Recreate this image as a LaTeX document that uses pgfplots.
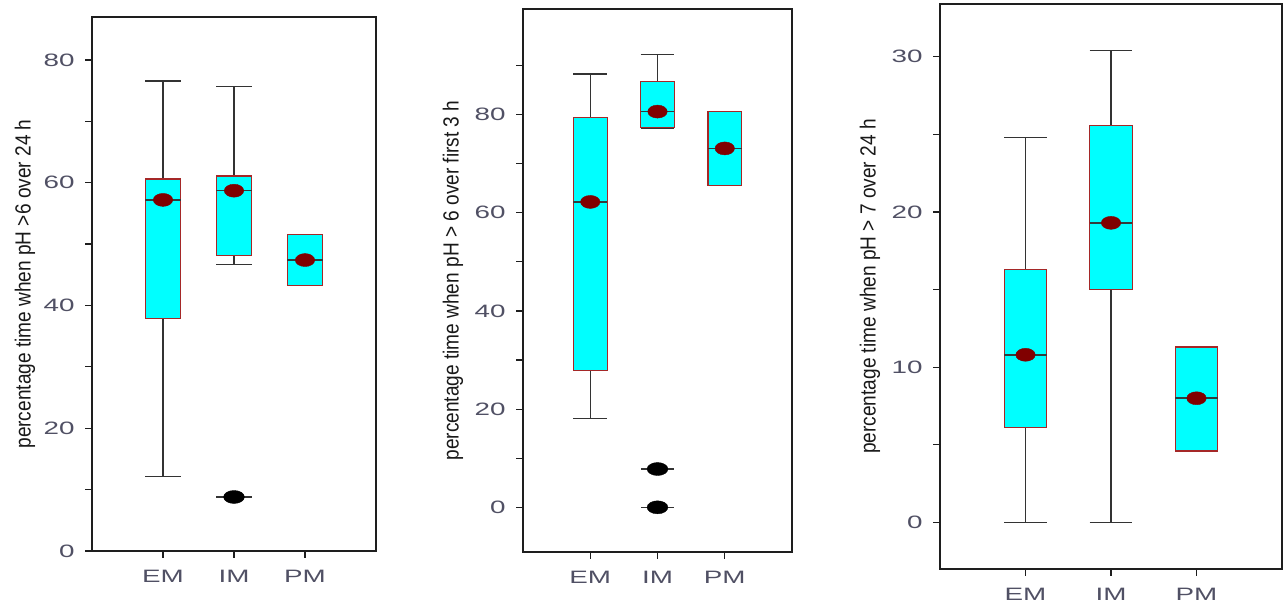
\documentclass[border=0pt]{standalone}
\usepackage{graphicx}
\usepackage{fontspec}
\setmainfont{Liberation Sans}
\usepackage{pgfplots}
\pgfplotsset{compat=1.18}
\usepgfplotslibrary{statistics}

\definecolor{boxfill}{RGB}{0,255,255}
\definecolor{boxedge}{RGB}{165,40,40}
\definecolor{meandot}{RGB}{128,0,0}
\definecolor{ticktext}{RGB}{80,80,100}
\definecolor{medline}{RGB}{50,60,60}
\definecolor{frame}{RGB}{30,30,30}

% tick labels are set wide, as in the original figure
\newcommand{\wide}[1]{\scalebox{1.55}[1]{#1}}
% axis titles are set narrow
\newcommand{\narrow}[1]{\scalebox{0.87}[1]{#1}}

\pgfplotsset{
  phpanel/.style={
    scale only axis,
    anchor=south west,
    xmin=0, xmax=4,
    xtick={1,2,3},
    xticklabels={\wide{EM},\wide{IM},\wide{PM}},
    tick pos=left,
    tick align=outside,
    major tick length=7bp,
    minor tick length=7bp,
    axis line style={line width=2bp, frame},
    every tick/.style={frame, line width=1.2bp},
    every minor tick/.style={frame, line width=1.2bp},
    tick label style={font=\fontsize{18}{21}\selectfont, text=ticktext},
    yticklabel style={xshift=-7bp},
    xticklabel style={yshift=-9bp},
    ylabel style={font=\fontsize{22}{25}\selectfont, anchor=center, text=black!90},
    boxplot/draw direction=y,
  },
  phbox/.style={
    draw=black!80, line width=1.5bp,
    boxplot/draw direction=y,
    boxplot/box extend=0.5,
    boxplot/whisker extend=0.5,
    boxplot/every box/.style={fill=boxfill, draw=boxedge, line width=1.1bp},
    boxplot/every whisker/.style={draw=black!80, line width=1.5bp},
    boxplot/every median/.style={draw=medline, line width=1.5bp},
  },
  meanmark/.style={only marks, mark=*, color=meandot, mark size=6.5bp,
    mark options={xscale=1.5}},
  outlier/.style={only marks, mark=*, color=black, mark size=6.5bp,
    mark options={xscale=1.6},
    error bars/.cd, x dir=both, x fixed=0.25, error mark=none,
    error bar style={black!80, line width=1.5bp}},
}

\begin{document}
\begin{tikzpicture}[x=1bp,y=1bp]
\path[use as bounding box] (0,0) rectangle (1288,606);

% ---- pH > 6 over 24 h ----
\begin{axis}[phpanel, at={(92bp,55bp)}, width=284bp, height=534bp,
  ymin=0, ymax=87,
  ytick={0,20,40,60,80}, yticklabels={\wide{0},\wide{20},\wide{40},\wide{60},\wide{80}},
  minor ytick={10,30,50,70},
  ylabel={\narrow{percentage time when pH >6 over 24 h}},
  ylabel style={at={(axis description cs:-0.236,0.5)}}]
\addplot+[phbox, boxplot prepared={draw position=1, lower whisker=12.1,
  lower quartile=37.9, median=57.2, upper quartile=60.6, upper whisker=76.6}] coordinates {};
\addplot+[phbox, boxplot prepared={draw position=2, lower whisker=46.7,
  lower quartile=48.1, median=58.7, upper quartile=61.1, upper whisker=75.7}] coordinates {};
\addplot+[phbox, boxplot prepared={draw position=3, lower whisker=43.3,
  lower quartile=43.3, median=47.4, upper quartile=51.5, upper whisker=51.5}] coordinates {};
\addplot[outlier] coordinates {(2,8.8)};
\addplot[meanmark] coordinates {(1,57.2) (2,58.7) (3,47.4)};
\end{axis}

% ---- pH > 6 over first 3 h ----
\begin{axis}[phpanel, at={(523bp,54bp)}, width=269bp, height=543bp,
  ymin=-9.1, ymax=101.5,
  ytick={0,20,40,60,80}, yticklabels={\wide{0},\wide{20},\wide{40},\wide{60},\wide{80}},
  minor ytick={10,30,50,70,90},
  ylabel={\narrow{percentage time when pH > 6 over first 3 h}},
  ylabel style={at={(axis description cs:-0.26,0.5)}}]
\addplot+[phbox, boxplot prepared={draw position=1, lower whisker=18.1,
  lower quartile=27.9, median=62.2, upper quartile=79.4, upper whisker=88.3}] coordinates {};
\addplot+[phbox, boxplot prepared={draw position=2, lower whisker=77.3,
  lower quartile=77.3, median=80.6, upper quartile=86.7, upper whisker=92.2}] coordinates {};
\addplot+[phbox, boxplot prepared={draw position=3, lower whisker=65.5,
  lower quartile=65.5, median=73.1, upper quartile=80.6, upper whisker=80.6}] coordinates {};
\addplot[outlier] coordinates {(2,7.8) (2,0)};
\addplot[meanmark] coordinates {(1,62.2) (2,80.6) (3,73.1)};
\end{axis}

% ---- pH > 7 over 24 h ----
\begin{axis}[phpanel, at={(940bp,37bp)}, width=342bp, height=565bp,
  ymin=-3, ymax=33.4,
  ytick={0,10,20,30}, yticklabels={\wide{0},\wide{10},\wide{20},\wide{30}},
  minor ytick={5,15,25},
  ylabel={\narrow{percentage time when pH > 7 over 24 h}},
  ylabel style={at={(axis description cs:-0.205,0.5)}}]
\addplot+[phbox, boxplot prepared={draw position=1, lower whisker=0,
  lower quartile=6.1, median=10.8, upper quartile=16.3, upper whisker=24.8}] coordinates {};
\addplot+[phbox, boxplot prepared={draw position=2, lower whisker=0,
  lower quartile=15.0, median=19.3, upper quartile=25.6, upper whisker=30.4}] coordinates {};
\addplot+[phbox, boxplot prepared={draw position=3, lower whisker=4.6,
  lower quartile=4.6, median=8.0, upper quartile=11.3, upper whisker=11.3}] coordinates {};
\addplot[meanmark] coordinates {(1,10.8) (2,19.3) (3,8.0)};
\end{axis}
\end{tikzpicture}
\end{document}
